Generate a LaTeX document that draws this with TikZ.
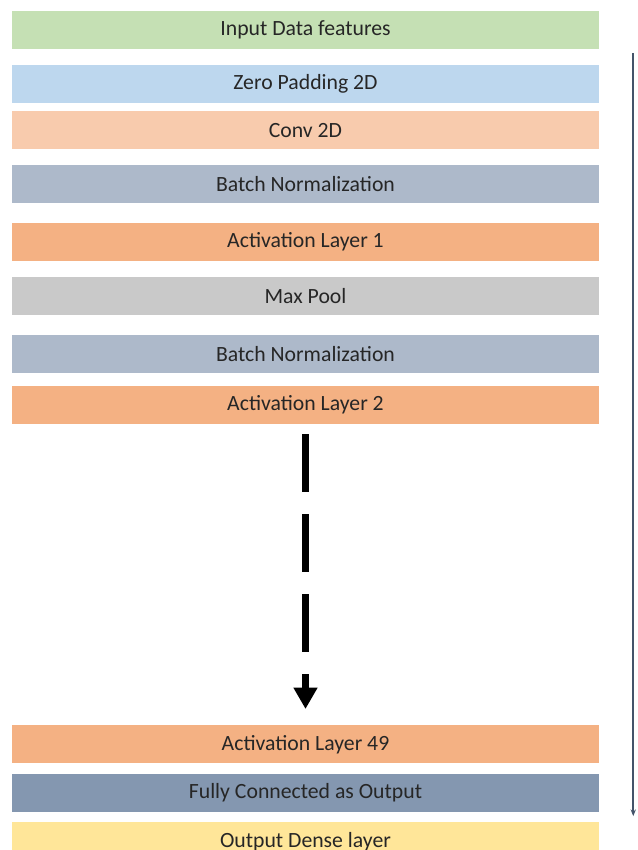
\documentclass[tikz,border=0pt]{standalone}
\usepackage{fontspec}
\setmainfont{Carlito}
\usepackage{xcolor}
\usetikzlibrary{arrows.meta,positioning}

\definecolor{inputgreen}{RGB}{197,224,180}
\definecolor{padblue}{RGB}{189,215,238}
\definecolor{convorange}{RGB}{248,203,173}
\definecolor{normgray}{RGB}{173,185,202}
\definecolor{actorange}{RGB}{244,177,131}
\definecolor{poolgray}{RGB}{201,201,201}
\definecolor{fcblue}{RGB}{132,151,176}
\definecolor{outyellow}{RGB}{255,230,153}
\definecolor{sideline}{RGB}{68,84,106}

\begin{document}
\begin{tikzpicture}[
    layer/.style={rectangle, minimum width=440.25pt, minimum height=28.5pt, inner sep=0pt, align=center, text=black!85, font=\fontsize{16.3pt}{19pt}\selectfont},
    flow/.style={-{Triangle[length=16pt, width=17pt]}, line width=5.25pt, dash pattern=on 43.5pt off 16.5pt},
    side/.style={-{Stealth[length=5pt, width=4pt]}, line width=1.2pt, draw=sideline}
]
\useasboundingbox (0,0) rectangle (477.75pt,-637.5pt);

% Layer stack
\node[layer, fill=inputgreen] (input) at (229.125pt,-22.125pt) {Input Data features};
\node[layer, fill=padblue, below=11.625pt of input] (pad) {Zero Padding 2D};
\node[layer, fill=convorange, below=6pt of pad] (conv) {Conv 2D};
\node[layer, fill=normgray, below=11.25pt of conv] (bn1) {Batch Normalization};
\node[layer, fill=actorange, below=15pt of bn1] (act1) {Activation Layer 1};
\node[layer, fill=poolgray, below=11.25pt of act1] (pool) {Max Pool};
\node[layer, fill=normgray, below=15pt of pool] (bn2) {Batch Normalization};
\node[layer, fill=actorange, below=9pt of bn2] (act2) {Activation Layer 2};

% Last layers
\node[layer, fill=actorange, below=225.75pt of act2] (act49) {Activation Layer 49};
\node[layer, fill=fcblue, below=7.5pt of act49] (fc) {Fully Connected as Output};
\node[layer, fill=outyellow, below=7.5pt of fc] (output) {Output Dense layer};

% Repeated blocks
\draw[flow] ([yshift=-7.5pt]act2.south) -- ([yshift=12pt]act49.north);

% Side line
\draw[side] ([shift={(25.5pt,-3pt)}]input.south east) -- ([shift={(25.5pt,-3pt)}]fc.south east);

\end{tikzpicture}
\end{document}
